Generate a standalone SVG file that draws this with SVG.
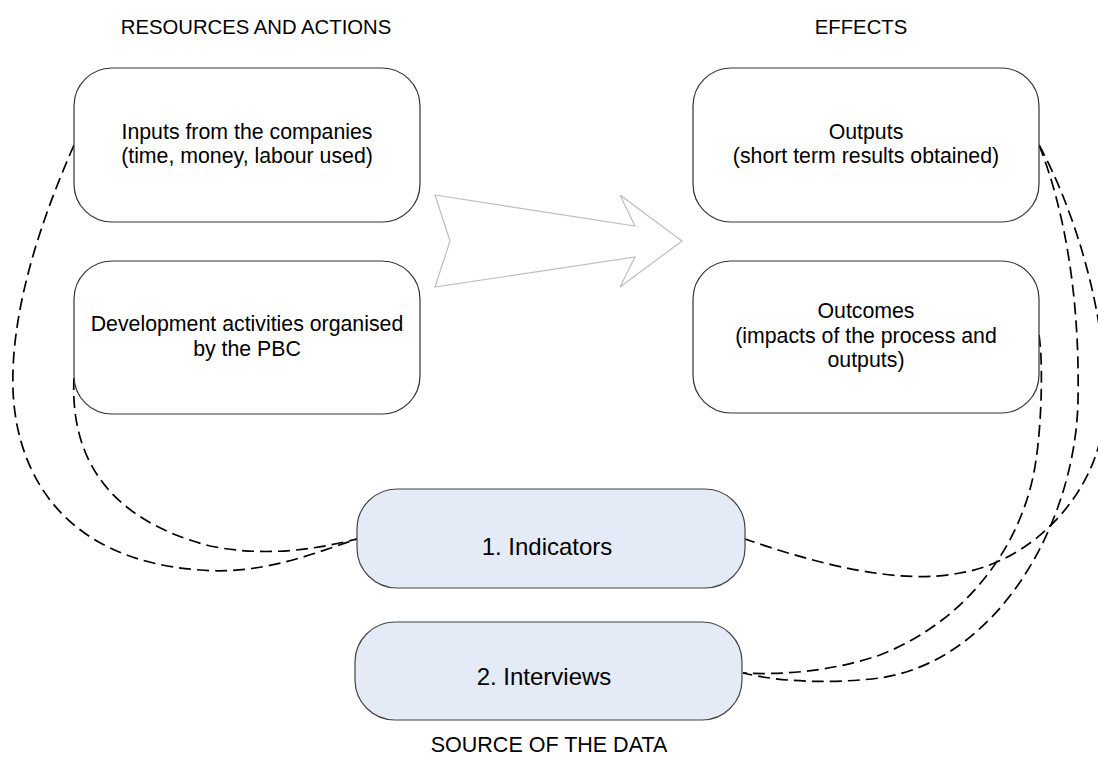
<svg xmlns="http://www.w3.org/2000/svg" width="1098" height="776" viewBox="0 0 1098 776">
  <style>
    .title { font-family: "Liberation Sans", Arial, sans-serif; font-size: 20.3px; fill: #000; text-anchor: middle; }
    .foot { font-family: "Liberation Sans", Arial, sans-serif; font-size: 21.5px; fill: #000; text-anchor: middle; }
    .label { font-family: "Liberation Sans", Arial, sans-serif; font-size: 21.3px; fill: #000; text-anchor: middle; }
    .src { font-family: "Liberation Sans", Arial, sans-serif; font-size: 24px; fill: #000; text-anchor: middle; }
    .box { fill: #ffffff; stroke: #333333; stroke-width: 1.2; }
    .srcbox { fill: #e4ebf6; stroke: #444444; stroke-width: 1.2; }
    .link { fill: none; stroke: #000000; stroke-width: 1.7; stroke-dasharray: 12 6; }
    .flow { fill: #ffffff; stroke: #bdbdbd; stroke-width: 1.2; }
  </style>

  <!-- section headings -->
  <text class="title" x="256" y="34">RESOURCES AND ACTIONS</text>
  <text class="title" x="861" y="34">EFFECTS</text>
  <text class="foot" x="549" y="752">SOURCE OF THE DATA</text>

  <!-- broad arrow from resources to effects -->
  <polygon id="flow-arrow" class="flow" points="435,195 635,226 620,195 682,241 620,287 635,257 435,287 450,241"/>

  <!-- dashed links between data sources and boxes -->
  <g id="connectors">
    <path class="link" d="M74,145 C50,200 10,300 13,390 C16,470 60,560 200,570 C260,575 310,555 357,539"/>
    <path class="link" d="M74,378 C70,460 110,520 210,546 C270,558 320,548 357,539"/>
    <path class="link" d="M1039,145 C1075,210 1108,320 1104,400 C1108,480 1040,560 960,573 C900,585 820,565 745,539"/>
    <path class="link" d="M1039,145 C1065,210 1080,300 1078,400 C1076,520 1000,660 880,678 C830,684 780,682 743,673"/>
    <path class="link" d="M1039,335 C1043,360 1042,420 1036,460 C1025,540 970,620 880,655 C830,672 780,675 743,673"/>
  </g>

  <g id="inputs">
    <rect class="box" x="74" y="68" width="346" height="154" rx="38" ry="38"/>
    <text class="label" x="247" y="139">Inputs from the companies</text>
    <text class="label" x="247" y="163">(time, money, labour used)</text>
  </g>

  <g id="activities">
    <rect class="box" x="74" y="261" width="346" height="153" rx="38" ry="38"/>
    <text class="label" x="247" y="331">Development activities organised</text>
    <text class="label" x="247" y="356">by the PBC</text>
  </g>

  <g id="outputs">
    <rect class="box" x="693" y="68" width="346" height="154" rx="38" ry="38"/>
    <text class="label" x="866" y="139">Outputs</text>
    <text class="label" x="866" y="163">(short term results obtained)</text>
  </g>

  <g id="outcomes">
    <rect class="box" x="693" y="261" width="346" height="152" rx="38" ry="38"/>
    <text class="label" x="866" y="318">Outcomes</text>
    <text class="label" x="866" y="343">(impacts of the process and</text>
    <text class="label" x="866" y="367">outputs)</text>
  </g>

  <g id="indicators">
    <rect class="srcbox" x="357" y="489" width="388" height="99" rx="40" ry="40"/>
    <text class="src" x="547" y="555">1. Indicators</text>
  </g>

  <g id="interviews">
    <rect class="srcbox" x="355" y="622" width="387" height="98" rx="40" ry="40"/>
    <text class="src" x="544" y="685">2. Interviews</text>
  </g>
</svg>
